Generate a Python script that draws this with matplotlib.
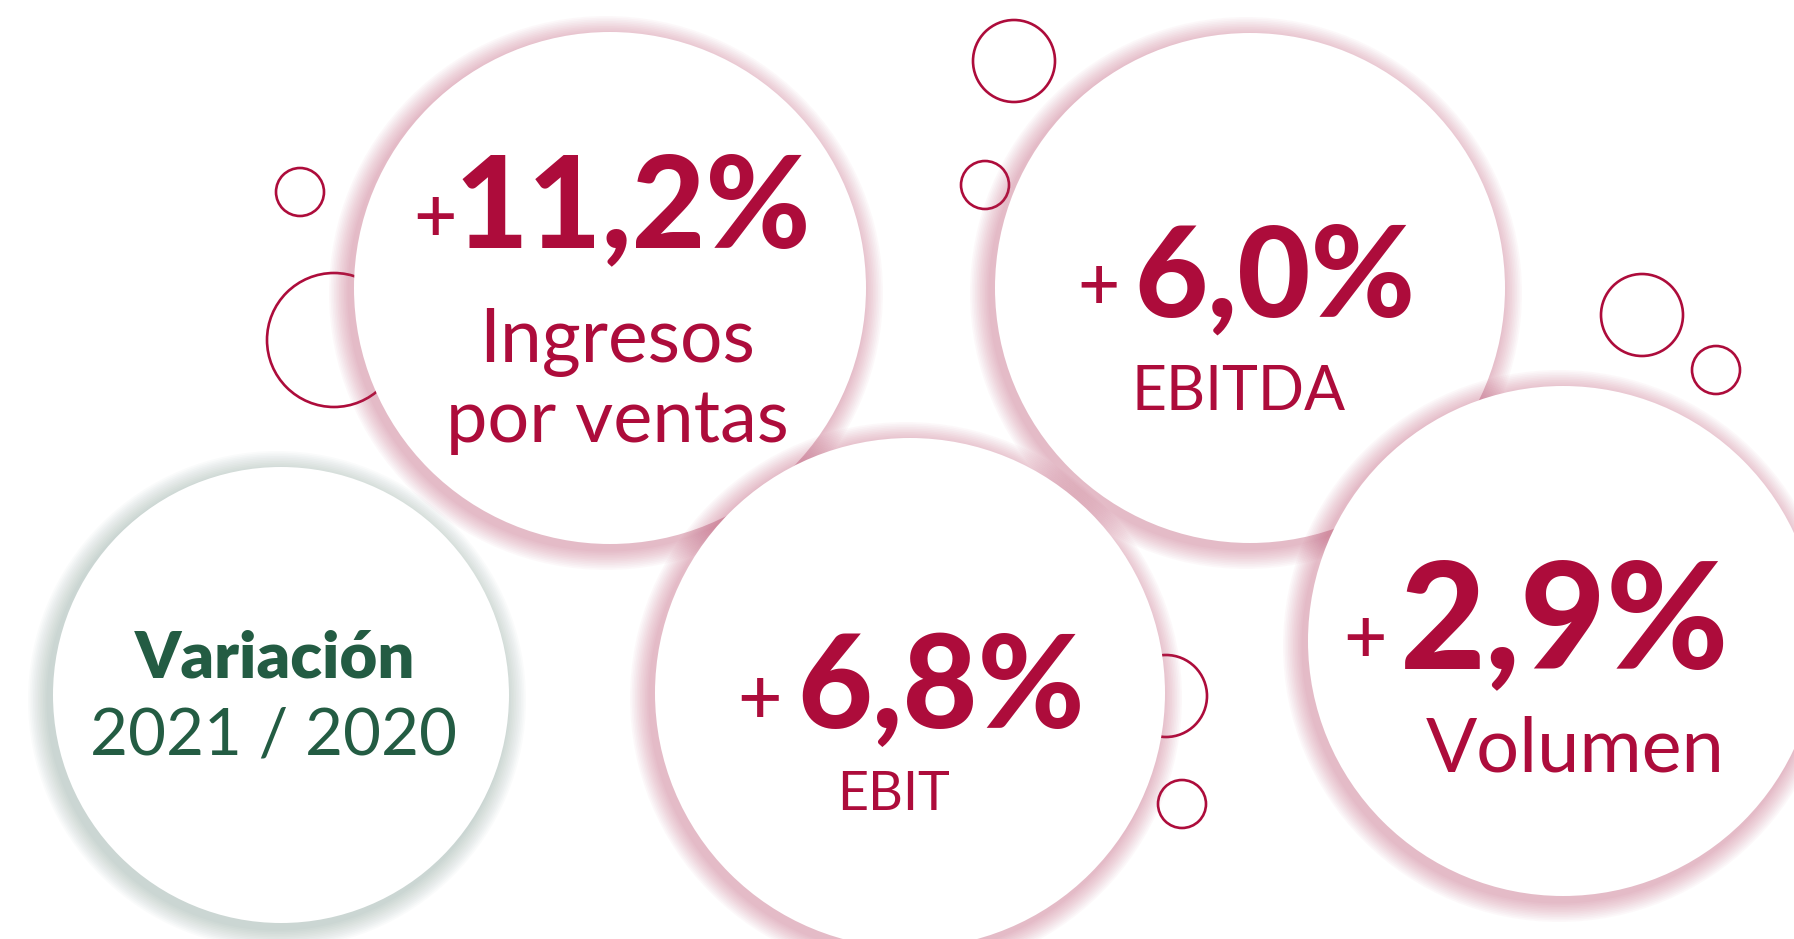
import matplotlib.pyplot as plt
from matplotlib.patches import Circle
from matplotlib.font_manager import FontProperties
from matplotlib.textpath import TextPath

W, H = 1794, 939
crimson = "#AD0C3B"
green = "#235C43"

# chart data
metrics = ["Ingresos\npor ventas", "EBITDA", "EBIT", "Volumen"]
changes = ["11,2", "6,0", "6,8", "2,9"]
title = "Variación"
period = "2021 / 2020"

# layout, in pixels of the 1794x939 canvas
bubble_x = [610, 1250, 910, 1563]
bubble_y = [288, 288, 693, 641]
bubble_r = [256, 255, 255, 255]
title_bubble = (281, 695, 228)

# ink boxes: (left, right, baseline)
value_box = [(462, 807, 247), (1127, 1424, 317), (788, 1095, 728), (1389, 1739, 668)]
plus_box = [(417, 453, 236), (1081, 1116, 303), (741, 778, 717), (1347, 1383, 657)]
label_box = [[(473, 765, 362), (438, 800, 442)], [(1128, 1355, 410)],
             [(838, 953, 810)], [(1410, 1735, 772)]]
title_box = (112, 435, 678)
period_box = (93, 455, 755)

# cap heights (px) measured on the reference
box_cap = {"11,2%": 92, "6,0%": 84, "6,8%": 85, "2,9%": 98,
           "Ingresos": 49, "por ventas": 49, "EBITDA": 40, "EBIT": 36,
           "Volumen": 49, title: 41, period: 47}

# small outline rings (x, y, r)
rings = [(300, 192, 24), (334, 340, 67), (1014, 61, 41), (985, 185, 24),
         (1642, 315, 41), (1716, 370, 24), (1166, 696, 41), (1182, 804, 24)]

f_black = FontProperties(family="Lato", weight="black")
f_light = FontProperties(family="Lato", weight="normal")
f_plus = FontProperties(family="Lato", weight="medium")
f_bold = FontProperties(family="Lato", weight="heavy")

fig = plt.figure(figsize=(W / 100, H / 100), dpi=100)
ax = fig.add_axes([0, 0, 1, 1])
ax.set_xlim(0, W)
ax.set_ylim(H, 0)
ax.axis("off")


def put_text(s, box, prop, color, mode="mean", bottom=False):
    # size the text so its ink fits the box
    x0, x1, y = box
    ext = TextPath((0, 0), s, size=1, prop=prop).get_extents()
    em = (x1 - x0) / ext.width
    if mode == "mean":
        cap = TextPath((0, 0), "H", size=1, prop=prop).get_extents().height
        em_h = box_cap[s] / cap
        em = (em * em_h) ** 0.5
    xc = (x0 + x1) / 2
    x = xc - (ext.x0 + ext.width / 2) * em
    if bottom:
        y = y + ext.y0 * em
    ax.text(x, y, s, fontproperties=prop, fontsize=em * 0.72,
            color=color, ha="left", va="baseline", zorder=10)


def bubble(x, y, r, glow, z):
    n = 12
    for k in range(n):
        ax.add_patch(Circle((x - 4, y + 5), r + 1 + 20 * (k + 1) / n,
                            color=glow, alpha=0.03, lw=0, zorder=z))
    ax.add_patch(Circle((x, y), r, color="white", lw=0, zorder=z + 0.5))


for (x, y, r) in rings:
    ax.add_patch(Circle((x, y), r, fill=False, ec=crimson, lw=1.9, zorder=1))

# drawing order: title, Ingresos, EBITDA, EBIT, Volumen
bubble(*title_bubble, glow="#6F8F80", z=2)
for i in range(len(metrics)):
    bubble(bubble_x[i], bubble_y[i], bubble_r[i], glow="#B8395F", z=3 + i)

put_text(title, title_box, f_bold, green)
put_text(period, period_box, f_light, green)

for i, metric in enumerate(metrics):
    put_text(changes[i] + "%", value_box[i], f_black, crimson)
    put_text("+", plus_box[i], f_plus, crimson, mode="width", bottom=True)
    for line, box in zip(metric.split("\n"), label_box[i]):
        put_text(line, box, f_light, crimson)

fig.savefig("out.png", dpi=100, facecolor="white")
